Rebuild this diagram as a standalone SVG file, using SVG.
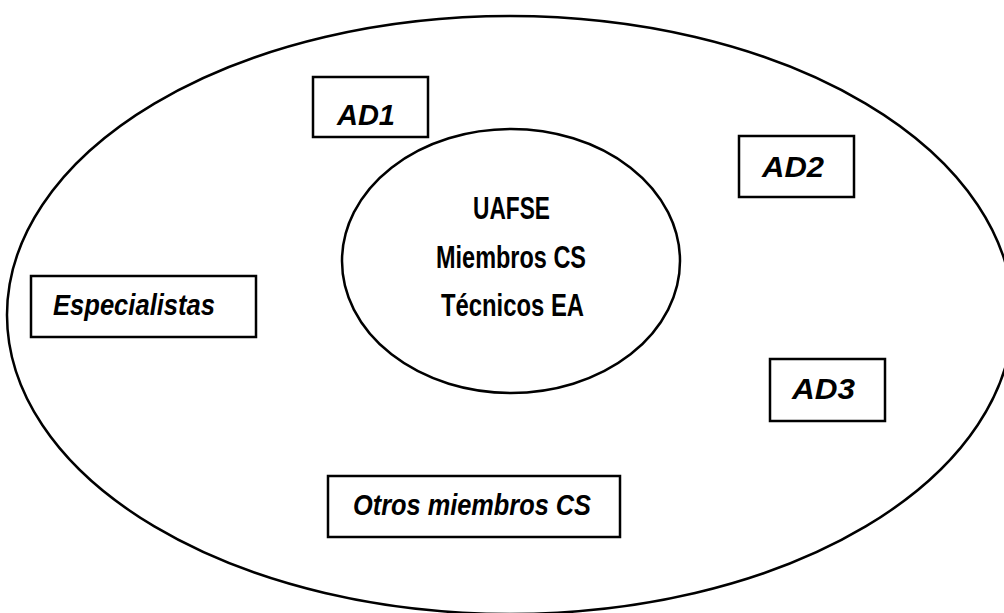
<svg xmlns="http://www.w3.org/2000/svg" width="1004" height="613" viewBox="0 0 1004 613">
<style>
.shape{fill:none;stroke:#000;stroke-width:2.5}
.box{fill:#fff;stroke:#000;stroke-width:2.5}
.lbl{font-family:"Liberation Sans",Arial,sans-serif;font-weight:bold;font-style:italic;font-size:29px;fill:#000}
.core{font-family:"Liberation Sans Narrow","Liberation Sans",Arial,sans-serif;font-weight:bold;font-size:31px;fill:#000}
</style>
<rect x="0" y="0" width="1004" height="613" fill="#fff"/>
<g id="outer"><ellipse class="shape" cx="510" cy="315" rx="503" ry="299"/></g>
<g id="core">
<ellipse class="shape" cx="511" cy="261" rx="169" ry="132"/>
<text class="core" x="473" y="219" textLength="77" lengthAdjust="spacingAndGlyphs">UAFSE</text>
<text class="core" x="436" y="268" textLength="150" lengthAdjust="spacingAndGlyphs">Miembros CS</text>
<text class="core" x="441" y="316" textLength="143" lengthAdjust="spacingAndGlyphs">Técnicos EA</text>
</g>
<g id="ad1"><rect class="box" x="313" y="77" width="115" height="60"/><text class="lbl" x="337" y="125" textLength="58" lengthAdjust="spacingAndGlyphs">AD1</text></g>
<g id="ad2"><rect class="box" x="739" y="136" width="115" height="61"/><text class="lbl" x="762" y="177" textLength="62" lengthAdjust="spacingAndGlyphs">AD2</text></g>
<g id="ad3"><rect class="box" x="770" y="359" width="115" height="62"/><text class="lbl" x="792" y="399" textLength="63" lengthAdjust="spacingAndGlyphs">AD3</text></g>
<g id="especialistas"><rect class="box" x="31" y="276" width="225" height="61"/><text class="lbl" x="53" y="315" textLength="162" lengthAdjust="spacingAndGlyphs">Especialistas</text></g>
<g id="otros"><rect class="box" x="328" y="476" width="292" height="61"/><text class="lbl" x="353" y="515" textLength="238" lengthAdjust="spacingAndGlyphs">Otros miembros CS</text></g>
<g id="connectors"></g>
</svg>
